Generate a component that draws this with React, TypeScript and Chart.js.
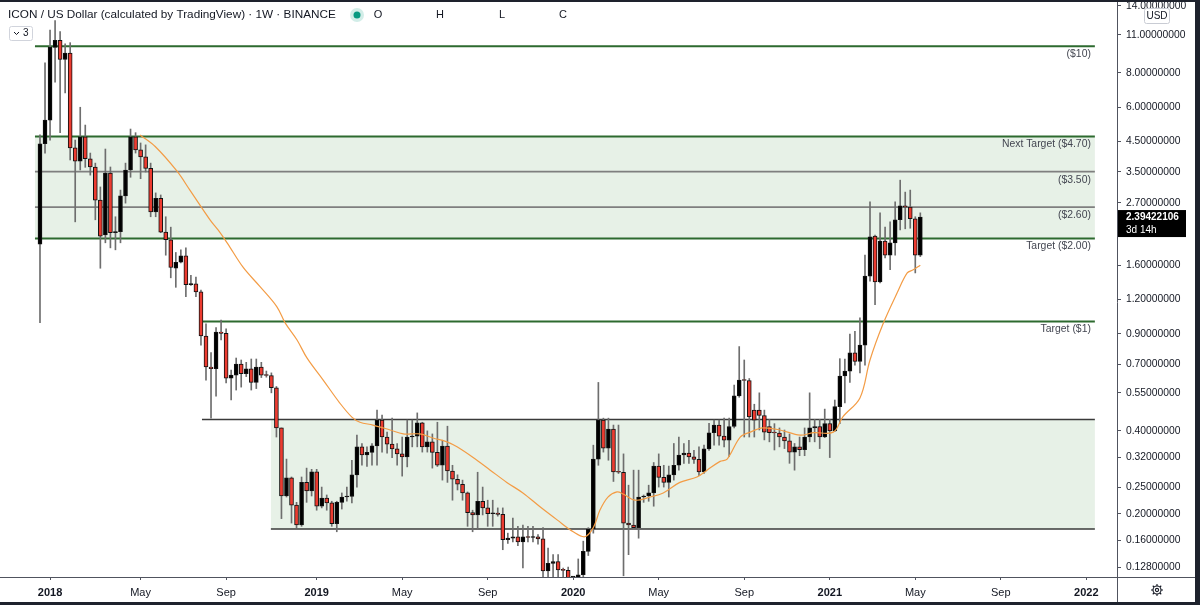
import React, { useEffect, useRef } from 'react';
import { Chart, registerables } from 'chart.js';

Chart.register(...registerables);

// ---- weekly ICON / USD candles (bar index 0 = week of 18 Dec 2017) ----
const opens = [
  1.91, 4.42, 5.39, 9.9, 10.5, 8.95, 9.45, 4.27, 3.82, 4.68,
  3.9, 3.64, 2.76, 2.06, 3.46, 2.1, 2.12, 2.86, 3.55, 4.68,
  4.2, 3.96, 3.6, 2.5, 2.8, 2.11, 1.98, 1.56, 1.64, 1.73,
  1.36, 1.37, 1.28, 0.885, 0.683, 0.673, 0.915, 0.905, 0.622, 0.638,
  0.70, 0.646, 0.672, 0.60, 0.683, 0.638, 0.636, 0.574, 0.41, 0.232,
  0.27, 0.215, 0.182, 0.26, 0.242, 0.284, 0.213, 0.228, 0.219, 0.184,
  0.22, 0.23, 0.231, 0.277, 0.35, 0.327, 0.334, 0.353, 0.438, 0.38,
  0.358, 0.344, 0.33, 0.322, 0.38, 0.383, 0.428, 0.35, 0.365, 0.334,
  0.30, 0.352, 0.286, 0.267, 0.256, 0.238, 0.202, 0.198, 0.222, 0.21,
  0.2, 0.201, 0.199, 0.161, 0.163, 0.165, 0.158, 0.165, 0.164, 0.165,
  0.162, 0.124, 0.132, 0.134, 0.125, 0.1245, 0.117, 0.1175, 0.12, 0.146,
  0.176, 0.316, 0.438, 0.346, 0.406, 0.284, 0.283, 0.185, 0.182, 0.178,
  0.23, 0.232, 0.238, 0.298, 0.271, 0.26, 0.277, 0.30, 0.327, 0.332,
  0.322, 0.315, 0.284, 0.344, 0.394, 0.42, 0.383, 0.37, 0.415, 0.536,
  0.612, 0.61, 0.476, 0.476, 0.455, 0.415, 0.394, 0.393, 0.38, 0.368,
  0.335, 0.35, 0.342, 0.38, 0.41, 0.415, 0.38, 0.425, 0.40, 0.49,
  0.633, 0.66, 0.768, 0.715, 0.82, 1.46, 2.04, 1.39, 1.96, 1.74,
  1.93, 2.34, 2.63, 2.6, 2.36, 1.74,
];
const highs = [
  4.76, 8.7, 11.45, 12.4, 11.3, 10.2, 10.3, 4.56, 6.0, 5.17,
  4.09, 3.76, 3.08, 4.23, 3.64, 2.4, 3.0, 3.76, 5.0, 4.85,
  4.45, 4.38, 3.76, 2.93, 2.88, 2.4, 2.2, 1.78, 1.82, 1.85,
  1.47, 1.45, 1.30, 0.98, 0.77, 0.95, 1.01, 0.94, 0.666, 0.736,
  0.724, 0.71, 0.73, 0.73, 0.71, 0.66, 0.65, 0.58, 0.41, 0.316,
  0.272, 0.22, 0.272, 0.293, 0.29, 0.29, 0.25, 0.234, 0.222, 0.222,
  0.238, 0.25, 0.313, 0.386, 0.36, 0.35, 0.36, 0.476, 0.457, 0.396,
  0.445, 0.36, 0.38, 0.438, 0.438, 0.465, 0.43, 0.40, 0.39, 0.43,
  0.37, 0.416, 0.30, 0.277, 0.265, 0.24, 0.206, 0.283, 0.25, 0.224,
  0.224, 0.21, 0.21, 0.17, 0.193, 0.18, 0.182, 0.18, 0.18, 0.168,
  0.178, 0.15, 0.142, 0.142, 0.127, 0.128, 0.118, 0.137, 0.159, 0.178,
  0.355, 0.60, 0.445, 0.445, 0.42, 0.42, 0.33, 0.254, 0.288, 0.288,
  0.234, 0.254, 0.307, 0.33, 0.30, 0.298, 0.36, 0.38, 0.36, 0.37,
  0.34, 0.35, 0.355, 0.426, 0.438, 0.438, 0.445, 0.445, 0.587, 0.81,
  0.724, 0.62, 0.50, 0.55, 0.476, 0.44, 0.425, 0.41, 0.403, 0.39,
  0.36, 0.38, 0.41, 0.55, 0.44, 0.44, 0.48, 0.44, 0.518, 0.732,
  0.73, 0.90, 0.92, 1.03, 1.74, 2.72, 2.06, 2.48, 2.2, 2.3,
  2.72, 3.26, 2.95, 3.0, 2.40, 2.48,
];
const lows = [
  0.99, 4.09, 4.56, 7.4, 4.85, 6.76, 3.86, 2.3, 3.55, 3.63,
  3.4, 2.34, 1.56, 1.93, 1.85, 1.82, 1.93, 2.69, 3.34, 4.09,
  3.3, 3.49, 2.4, 2.4, 2.1, 1.74, 1.44, 1.33, 1.63, 1.23,
  1.35, 1.23, 0.82, 0.612, 0.445, 0.535, 0.856, 0.597, 0.518, 0.563,
  0.577, 0.63, 0.563, 0.57, 0.625, 0.627, 0.55, 0.38, 0.192, 0.23,
  0.185, 0.178, 0.18, 0.22, 0.232, 0.206, 0.21, 0.206, 0.18, 0.172,
  0.208, 0.222, 0.219, 0.25, 0.30, 0.297, 0.30, 0.30, 0.335, 0.332,
  0.32, 0.30, 0.274, 0.296, 0.35, 0.35, 0.335, 0.335, 0.293, 0.297,
  0.265, 0.26, 0.224, 0.244, 0.224, 0.18, 0.172, 0.175, 0.198, 0.18,
  0.18, 0.196, 0.148, 0.156, 0.158, 0.153, 0.127, 0.158, 0.158, 0.155,
  0.118, 0.118, 0.118, 0.118, 0.118, 0.116, 0.115, 0.115, 0.116, 0.141,
  0.17, 0.30, 0.335, 0.313, 0.262, 0.28, 0.119, 0.142, 0.175, 0.163,
  0.22, 0.222, 0.213, 0.25, 0.25, 0.23, 0.265, 0.288, 0.305, 0.305,
  0.305, 0.275, 0.28, 0.34, 0.355, 0.355, 0.35, 0.323, 0.41, 0.53,
  0.38, 0.38, 0.38, 0.403, 0.371, 0.365, 0.341, 0.35, 0.345, 0.305,
  0.288, 0.325, 0.325, 0.365, 0.365, 0.345, 0.378, 0.32, 0.398, 0.425,
  0.505, 0.60, 0.694, 0.65, 0.694, 1.40, 1.15, 1.38, 1.7, 1.54,
  1.74, 2.15, 2.17, 2.18, 1.5, 1.72,
];
const closes = [
  4.42, 5.39, 9.9, 10.5, 8.95, 9.45, 4.27, 3.82, 4.68, 3.9,
  3.64, 2.76, 2.04, 3.46, 2.1, 2.12, 2.86, 3.55, 4.68, 4.2,
  3.96, 3.6, 2.5, 2.8, 2.11, 1.98, 1.57, 1.64, 1.73, 1.36,
  1.37, 1.28, 0.885, 0.683, 0.673, 0.915, 0.905, 0.622, 0.638, 0.70,
  0.646, 0.672, 0.60, 0.683, 0.638, 0.636, 0.574, 0.41, 0.232, 0.27,
  0.215, 0.182, 0.26, 0.242, 0.284, 0.213, 0.228, 0.219, 0.184, 0.22,
  0.23, 0.231, 0.277, 0.35, 0.327, 0.334, 0.353, 0.438, 0.38, 0.358,
  0.344, 0.33, 0.322, 0.38, 0.383, 0.428, 0.35, 0.365, 0.334, 0.30,
  0.352, 0.286, 0.267, 0.256, 0.238, 0.202, 0.198, 0.222, 0.21, 0.2,
  0.201, 0.199, 0.161, 0.163, 0.165, 0.158, 0.165, 0.164, 0.165, 0.162,
  0.124, 0.132, 0.134, 0.125, 0.1245, 0.117, 0.1175, 0.12, 0.146, 0.176,
  0.316, 0.438, 0.346, 0.406, 0.284, 0.283, 0.185, 0.182, 0.178, 0.23,
  0.232, 0.238, 0.298, 0.271, 0.26, 0.277, 0.30, 0.327, 0.332, 0.322,
  0.315, 0.284, 0.344, 0.394, 0.42, 0.383, 0.37, 0.415, 0.536, 0.612,
  0.61, 0.45, 0.438, 0.455, 0.396, 0.394, 0.393, 0.38, 0.368, 0.335,
  0.35, 0.342, 0.38, 0.41, 0.415, 0.38, 0.425, 0.40, 0.49, 0.633,
  0.66, 0.768, 0.715, 0.82, 1.46, 2.03, 1.39, 1.96, 1.74, 1.93,
  2.34, 2.63, 2.6, 2.36, 1.74, 2.39422106,
];

// ---- orange moving average, read at bar positions ----
const maPos = [
  19.9, 22.9, 27.2, 29.8, 33.8, 35.4, 37.2, 40.4, 43.7, 47.1,
  48.7, 51.1, 53.1, 56.3, 59.6, 62, 63.6, 66.2, 69.6, 72.2,
  75.5, 78.1, 80.9, 82.9, 86.1, 89.5, 92.8, 96, 99.4, 102.8,
  106, 108.3, 110, 111.3, 112.9, 114.7, 115.9, 118.3, 121.3, 123.9,
  127.2, 130.6, 132.6, 135.2, 136.6, 139.2, 141.2, 143.7, 147.1, 151.1,
  153.7, 157.7, 159.6, 163, 165, 167.6, 170.4, 172.4, 173.6, 175,
];
const maVal = [
  4.76, 4.32, 3.52, 3.0, 2.34, 2.15, 1.93, 1.57, 1.34, 1.13,
  0.99, 0.856, 0.735, 0.612, 0.505, 0.449, 0.43, 0.42, 0.403, 0.39,
  0.39, 0.377, 0.365, 0.35, 0.32, 0.288, 0.26, 0.238, 0.212, 0.19,
  0.172, 0.165, 0.178, 0.206, 0.23, 0.24, 0.236, 0.224, 0.23, 0.238,
  0.26, 0.272, 0.288, 0.31, 0.316, 0.38, 0.396, 0.41, 0.403, 0.386,
  0.394, 0.396, 0.45, 0.527, 0.724, 0.98, 1.27, 1.5, 1.54, 1.6,
];

// ---- axes ----
const xTickPos = [2, 20, 37, 55, 72, 89, 106, 123, 140, 157, 174, 191, 208];
const xTickLabels = ['2018', 'May', 'Sep', '2019', 'May', 'Sep', '2020', 'May', 'Sep', '2021', 'May', 'Sep', '2022'];
const yTicks = [14, 11, 8, 6, 4.5, 3.5, 2.7, 2.1, 1.6, 1.2, 0.9, 0.7, 0.55, 0.4, 0.32, 0.25, 0.2, 0.16, 0.128];
const X_MIN = -7.95;
const X_MAX = 214.1;
const Y_MIN = 0.1178;
const Y_MAX = 14.72;

// ---- drawn levels and zones ----
const levelPrices = [10, 4.7, 3.5, 2.6, 2.0, 1.0, 0.44, 0.176];
const levelFrom = [-1, -1, -1, -1, -1, 32.4, 32.2, 45.9];
const levelLabels = ['($10)', 'Next Target ($4.70)', '($3.50)', '($2.60)', 'Target ($2.00)', 'Target ($1)', '', ''];
const levelKinds = ['target', 'target', 'mid', 'mid', 'target', 'target', 'zone', 'zone'];
const LEVEL_END = 209.7;
const zoneTop = [4.7, 0.44];
const zoneBottom = [2.0, 0.176];
const zoneFrom = [-1, 45.9];

const FAMILY = "'Liberation Sans', Arial, sans-serif";
const TEXT = '#131722';
const UP = '#000000';
const DOWN = '#ec3b30';
const WICK = '#6e6e6e';
const MA = '#f39c45';
const ZONE_FILL = '#e7f1e7';
const KIND_STYLE: Record<string, { color: string; width: number }> = {
  target: { color: '#2d6a2f', width: 2 },
  mid: { color: '#7f7f7f', width: 1.8 },
  zone: { color: '#3a3a3a', width: 1.5 },
};

function rrect(ctx: CanvasRenderingContext2D, x: number, y: number, w: number, h: number, r: number) {
  ctx.beginPath();
  ctx.moveTo(x + r, y);
  ctx.arcTo(x + w, y, x + w, y + h, r);
  ctx.arcTo(x + w, y + h, x, y + h, r);
  ctx.arcTo(x, y + h, x, y, r);
  ctx.arcTo(x, y, x + w, y, r);
  ctx.closePath();
}

function fitFont(ctx: CanvasRenderingContext2D, text: string, weight: string, target: number, base: number) {
  ctx.font = `${weight} ${base}px ${FAMILY}`;
  const w = ctx.measureText(text).width;
  const size = (base * target) / w;
  ctx.font = `${weight} ${size.toFixed(2)}px ${FAMILY}`;
  return size;
}

const overlay = {
  id: 'overlay',
  beforeDatasetsDraw(chart: any) {
    const { ctx, chartArea, scales } = chart;
    const x = scales.x;
    const y = scales.y;
    ctx.save();
    ctx.beginPath();
    ctx.rect(chartArea.left, chartArea.top, chartArea.width, chartArea.height);
    ctx.clip();
    // zones
    ctx.fillStyle = ZONE_FILL;
    zoneTop.forEach((top, i) => {
      const x0 = x.getPixelForValue(zoneFrom[i]);
      const x1 = x.getPixelForValue(LEVEL_END);
      const y0 = y.getPixelForValue(top);
      const y1 = y.getPixelForValue(zoneBottom[i]);
      ctx.fillRect(x0, y0, x1 - x0, y1 - y0);
    });
    // lines
    levelPrices.forEach((p, i) => {
      const st = KIND_STYLE[levelKinds[i]];
      const yy = y.getPixelForValue(p);
      ctx.strokeStyle = st.color;
      ctx.lineWidth = st.width;
      ctx.beginPath();
      ctx.moveTo(x.getPixelForValue(levelFrom[i]), yy);
      ctx.lineTo(x.getPixelForValue(LEVEL_END), yy);
      ctx.stroke();
    });
    // labels
    const size = fitFont(ctx, 'Next Target ($4.70)', 'normal', 89, 10);
    ctx.font = `normal ${size.toFixed(2)}px ${FAMILY}`;
    ctx.fillStyle = '#434651';
    ctx.textAlign = 'right';
    ctx.textBaseline = 'middle';
    levelPrices.forEach((p, i) => {
      if (!levelLabels[i]) return;
      ctx.fillText(levelLabels[i], x.getPixelForValue(LEVEL_END) - 4, y.getPixelForValue(p) + 8);
    });
    ctx.restore();
  },
  afterDraw(chart: any) {
    const { ctx, chartArea, scales, width, height } = chart;
    const y = scales.y;
    ctx.save();
    // axis separators
    ctx.strokeStyle = '#50535e';
    ctx.lineWidth = 1;
    ctx.beginPath();
    ctx.moveTo(chartArea.right + 0.5, 0);
    ctx.lineTo(chartArea.right + 0.5, height);
    ctx.moveTo(0, chartArea.bottom + 0.5);
    ctx.lineTo(width, chartArea.bottom + 0.5);
    ctx.stroke();

    // header
    ctx.fillStyle = TEXT;
    ctx.textBaseline = 'middle';
    ctx.textAlign = 'left';
    fitFont(ctx, 'ICON / US Dollar (calculated by TradingView) · 1W · BINANCE', 'normal', 328, 13);
    ctx.fillText('ICON / US Dollar (calculated by TradingView) · 1W · BINANCE', 8, 15);
    ctx.fillStyle = 'rgba(8,153,129,0.18)';
    ctx.beginPath();
    ctx.arc(357, 15, 7, 0, Math.PI * 2);
    ctx.fill();
    ctx.fillStyle = '#089981';
    ctx.beginPath();
    ctx.arc(357, 15, 3.5, 0, Math.PI * 2);
    ctx.fill();
    ctx.fillStyle = TEXT;
    ctx.font = `normal 11px ${FAMILY}`;
    ctx.textAlign = 'center';
    [['O', 378], ['H', 440], ['L', 502], ['C', 563]].forEach(([t, px]) => {
      ctx.fillText(t as string, px as number, 15);
    });

    // collapse box
    ctx.fillStyle = '#ffffff';
    rrect(ctx, 9.5, 26.5, 23, 14, 2);
    ctx.fill();
    ctx.strokeStyle = '#d1d4dc';
    ctx.stroke();
    ctx.strokeStyle = TEXT;
    ctx.lineWidth = 1;
    ctx.beginPath();
    ctx.moveTo(14, 32);
    ctx.lineTo(16.5, 34.5);
    ctx.lineTo(19, 32);
    ctx.stroke();
    ctx.fillStyle = TEXT;
    ctx.font = `normal 10px ${FAMILY}`;
    ctx.textAlign = 'left';
    ctx.fillText('3', 23, 33.5);

    // USD box
    ctx.fillStyle = '#ffffff';
    rrect(ctx, 1144.5, 8.5, 25, 15, 2);
    ctx.fill();
    ctx.strokeStyle = '#c9ccd4';
    ctx.stroke();
    ctx.fillStyle = TEXT;
    ctx.textAlign = 'center';
    ctx.font = `normal 10px ${FAMILY}`;
    ctx.fillText('USD', 1157, 16.5);

    // last price label
    const lastClose = closes[closes.length - 1];
    const cy = y.getPixelForValue(lastClose);
    ctx.fillStyle = '#000000';
    ctx.fillRect(chartArea.right + 1, cy - 7, 68, 27);
    ctx.fillStyle = '#ffffff';
    ctx.textAlign = 'left';
    ctx.font = `bold 10px ${FAMILY}`;
    ctx.fillText(lastClose.toFixed(8), chartArea.right + 9, cy + 0.5);
    ctx.font = `normal 10px ${FAMILY}`;
    ctx.fillText('3d 14h', chartArea.right + 9, cy + 13);

    // gear icon
    ctx.strokeStyle = TEXT;
    ctx.lineWidth = 1.1;
    const gx = 1157;
    const gy = 590;
    ctx.beginPath();
    ctx.arc(gx, gy, 4, 0, Math.PI * 2);
    ctx.stroke();
    ctx.beginPath();
    for (let i = 0; i < 8; i++) {
      const a = (i * Math.PI) / 4;
      ctx.moveTo(gx + Math.cos(a) * 4, gy + Math.sin(a) * 4);
      ctx.lineTo(gx + Math.cos(a) * 6, gy + Math.sin(a) * 6);
    }
    ctx.stroke();
    ctx.beginPath();
    ctx.arc(gx, gy, 1.6, 0, Math.PI * 2);
    ctx.stroke();

    // window frame
    ctx.fillStyle = '#1e222d';
    ctx.fillRect(0, 0, width, 2);
    ctx.fillRect(width - 5, 0, 5, height);
    ctx.fillRect(0, height - 3, width, 3);
    ctx.restore();
  },
};

export default function App() {
  const ref = useRef<HTMLCanvasElement>(null);
  useEffect(() => {
    const canvas = ref.current;
    if (!canvas) return;
    const idx = opens.map((_, i) => i);
    const wickData = idx.map((i) => ({ x: i, y: [lows[i], highs[i]] }));
    const bodyData = idx.map((i) => ({ x: i, y: [opens[i], closes[i]] }));
    const bodyColors = idx.map((i) => (closes[i] >= opens[i] ? UP : DOWN));
    const maData = maPos.map((p, i) => ({ x: p, y: maVal[i] }));

    const chart = new Chart(canvas, {
      type: 'bar',
      data: {
        datasets: [
          {
            type: 'line',
            data: maData as any,
            borderColor: MA,
            borderWidth: 1.2,
            pointRadius: 0,
            tension: 0.35,
            order: 1,
          } as any,
          {
            type: 'bar',
            data: bodyData as any,
            backgroundColor: bodyColors,
            borderColor: '#111111',
            borderWidth: 1,
            borderSkipped: false,
            barThickness: 4,
            grouped: false,
            minBarLength: 1,
            order: 2,
          } as any,
          {
            type: 'bar',
            data: wickData as any,
            backgroundColor: WICK,
            borderWidth: 0,
            barThickness: 1,
            grouped: false,
            order: 3,
          } as any,
        ],
      },
      options: {
        responsive: false,
        animation: false,
        events: [],
        layout: { padding: 0 },
        plugins: { legend: { display: false }, tooltip: { enabled: false } },
        scales: {
          x: {
            type: 'linear',
            min: X_MIN,
            max: X_MAX,
            offset: false,
            border: { display: false },
            grid: { drawOnChartArea: false, drawTicks: true, tickLength: 3, color: '#50535e', offset: false },
            ticks: {
              autoSkip: false,
              maxRotation: 0,
              padding: 6,
              color: TEXT,
              font: (c: any) => ({
                family: FAMILY,
                size: 11,
                weight: /^\d{4}$/.test(xTickLabels[xTickPos.indexOf(c.tick ? c.tick.value : -999)] || '') ? 'bold' : 'normal',
              }),
              callback: (_v: any, i: number) => xTickLabels[i],
            },
            afterBuildTicks: (s: any) => {
              s.ticks = xTickPos.map((v) => ({ value: v }));
            },
            afterFit: (s: any) => {
              s.height = 28;
              s.paddingLeft = 0;
              s.paddingRight = 0;
            },
          },
          y: {
            type: 'logarithmic',
            position: 'right',
            min: Y_MIN,
            max: Y_MAX,
            border: { display: false },
            grid: { drawOnChartArea: false, drawTicks: true, tickLength: 4, color: '#50535e' },
            ticks: {
              autoSkip: false,
              padding: 5,
              color: TEXT,
              font: { family: FAMILY, size: 10.3 },
              callback: (v: any) => Number(v).toFixed(8),
            },
            afterBuildTicks: (s: any) => {
              s.ticks = yTicks.map((v) => ({ value: v }));
            },
            afterFit: (s: any) => {
              s.width = 83;
              s.paddingTop = 0;
              s.paddingBottom = 0;
            },
          },
        },
      } as any,
      plugins: [overlay],
    });
    return () => chart.destroy();
  }, []);

  return (
    <div style={{ position: 'fixed', left: 0, top: 0, width: 1200, height: 605, background: '#ffffff' }}>
      <canvas ref={ref} width={1200} height={605} style={{ display: 'block', width: 1200, height: 605 }} />
    </div>
  );
}
